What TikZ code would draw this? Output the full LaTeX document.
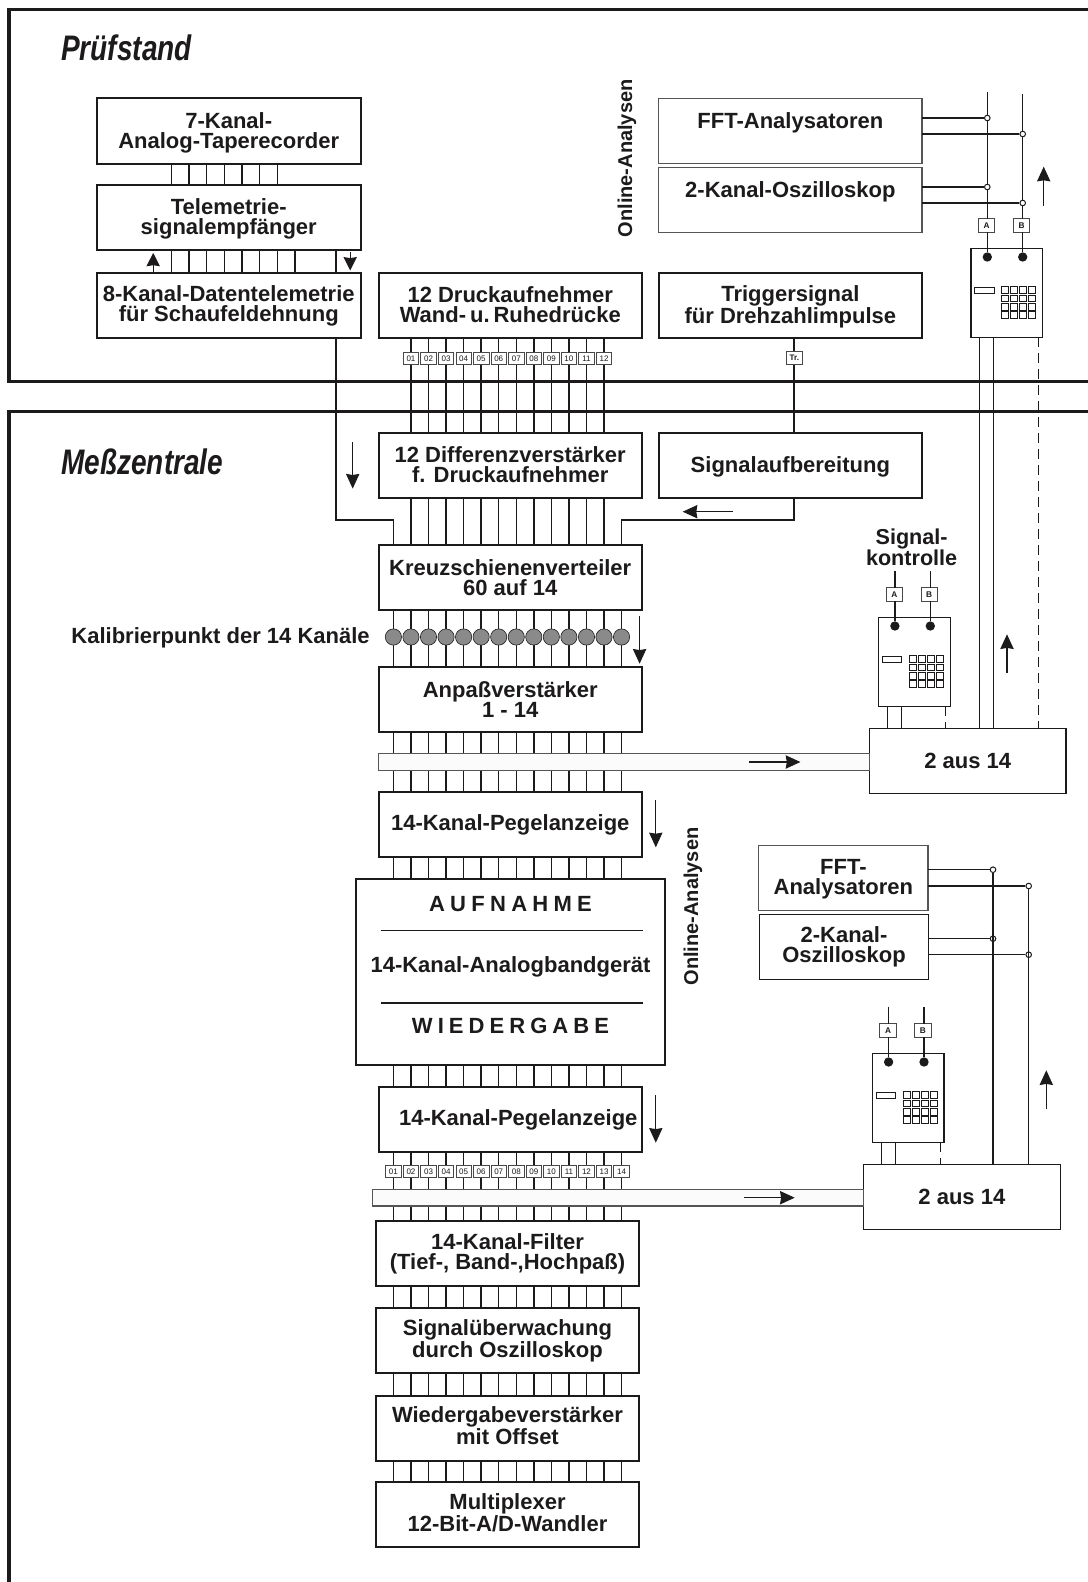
\documentclass[tikz,border=0pt]{standalone}
\usepackage{fontspec}
\setmainfont{Liberation Sans}
\newfontfamily\titlefont[FakeStretch=0.79]{Liberation Sans}
\usetikzlibrary{arrows.meta,calc}
\definecolor{ink}{HTML}{1C1A1B}
\definecolor{thinbox}{HTML}{555555}
\definecolor{chip}{HTML}{8A8A8A}
% small vertical trims of a box text
\newcommand\dnb{\rule{0pt}{15pt}}
\newcommand\dna{\rule{0pt}{13.5pt}}
\newcommand\upa{\rule[-5.3pt]{0pt}{5.3pt}}
\tikzset{
  x=0.75pt,y=-0.75pt,
  every node/.style={text=ink},
  box/.style={draw=ink,line width=1.5pt,inner sep=0pt,outer sep=0pt,align=center,
    font=\fontsize{16.5pt}{15pt}\selectfont\bfseries,
    execute at begin node={\rule{0pt}{14.8pt}\ignorespaces},
    execute at end node={\rule[-3.8pt]{0pt}{3.8pt}}},
  thinb/.style={box,line width=1pt},
  paleb/.style={box,draw=thinbox,line width=1pt},
  frame/.style={draw=ink,line width=2.6pt,line join=miter},
  sig/.style={draw=ink,line width=1.1pt},
  thinsig/.style={draw=ink,line width=0.95pt},
  dashsig/.style={draw=ink,line width=0.85pt,dash pattern=on 7.5pt off 4.5pt},
  flow/.style={draw=ink,line width=0.8pt,-{Stealth[length=11pt,width=10pt,inset=0.8pt]}},
  flowshort/.style={draw=ink,line width=0.8pt,-{Stealth[length=10pt,width=10pt,inset=0.8pt]}},
  numb/.style={draw=ink!80,fill=white,line width=0.55pt,inner sep=0pt,outer sep=0pt,
    minimum width=11.6pt,minimum height=9pt,font=\fontsize{6pt}{6pt}\selectfont},
  ltr/.style={draw=ink!80,fill=white,line width=0.7pt,inner sep=0pt,outer sep=0pt,
    minimum width=12.2pt,minimum height=10.3pt,font=\fontsize{6.2pt}{6pt}\selectfont},
  calib/.style={circle,draw=ink,fill=chip,line width=0.45pt,inner sep=0pt,minimum size=12.2pt},
  jn/.style={circle,draw=ink,fill=white,line width=0.75pt,inner sep=0pt,minimum size=4.2pt},
  knob/.style={circle,fill=ink,inner sep=0pt,minimum size=7pt},
  strip/.style={draw=thinbox,fill=black!1.5,line width=0.8pt,inner sep=0pt,outer sep=0pt},
  caption/.style={font=\fontsize{16.5pt}{15pt}\selectfont\bfseries,align=center,inner sep=0pt},
  side/.style={font=\fontsize{15pt}{15pt}\selectfont\bfseries,rotate=90,inner sep=0pt},
  place/.style={font=\titlefont\fontsize{26.6pt}{28pt}\selectfont\bfseries\itshape,anchor=base west,inner sep=0pt},
  spread/.style={font=\fontsize{16.5pt}{15pt}\selectfont\bfseries,inner sep=0pt},
}
% box by corners: name, x0, y0, x1, y1, style, text
\newcommand\bx[7]{\node[#6,minimum width={(#4-#2)*0.75pt},minimum height={(#5-#3)*0.75pt}]
  (#1) at ({(#2+#4)/2},{(#3+#5)/2}) {#7};}
% channel lines between two boxes
\newcommand\chans[4]{\foreach \i in {#3,...,#4} \draw[sig] (ch\i |- #1.south) -- (ch\i |- #2.north);}
% measuring device: name, x, y of its top left corner
\newcommand\device[3]{
  \bx{#1}{#2}{#3}{#2+71.7}{#3+88.6}{thinb}{}
  \node[knob] (#1ka) at (#2+16.3,#3+8.3) {};
  \node[knob] (#1kb) at (#2+51.7,#3+8.3) {};
  \node[ltr] (#1A) at (#2+15.7,#3-23.2) {\textbf{A}};
  \node[ltr] (#1B) at (#2+50.6,#3-23.2) {\textbf{B}};
  \draw[thinsig] (#1ka) -- (#1ka |- #1A.south);
  \draw[thinsig] (#1kb) -- (#1kb |- #1B.south);
  \draw[draw=ink,fill=white,line width=0.7pt] (#2+3.7,#3+38.6) rectangle (#2+23.3,#3+45);
  \foreach \r in {0,1,2,3} \foreach \c in {0,1,2,3}
    \draw[ink,line width=0.7pt] (#2+30.7+\c*9,#3+38+\r*8.3) rectangle ++(7,6.8);
}
\begin{document}
\begin{tikzpicture}
\useasboundingbox (0,0) rectangle (1088,1582);
\foreach \i in {0,...,13} \coordinate (ch\i) at ({393.4+\i*17.55},0);
\foreach \i in {0,...,7} \coordinate (tm\i) at ({171.3+\i*17.67},0);
\coordinate (lx) at (335.9,0);
\coordinate (trx) at (793.7,0);
% frames
\coordinate (f1a) at (1088,9.6); \coordinate (f1b) at (8.8,9.6);
\coordinate (f1c) at (8.8,381.4); \coordinate (f1d) at (1088,381.4);
\draw[frame] (f1a) -- (f1b) -- (f1c) -- (f1d);
\coordinate (f2a) at (1088,411.4); \coordinate (f2b) at (8.8,411.4);
\coordinate (f2c) at (8.8,1582);
\draw[frame] (f2a) -- (f2b) -- (f2c);
\node[place] (tpruef) at (61,60) {Prüfstand};
\node[place] (tmess) at (61,474) {Meßzentrale};
% boxes
\bx{tape}{96.8}{98.2}{360.7}{163.6}{box}{\dnb 7-Kanal-\\Analog-Taperecorder}
\bx{telem}{96.8}{185}{360.7}{250}{box}{\dnb Telemetrie-\\signalempfänger}
\bx{dat}{96.8}{273}{360.7}{338}{box}{\dna 8-Kanal-Datentelemetrie\\für Schaufeldehnung}
\bx{druck}{378.5}{273}{642}{338}{box}{\dnb 12 Druckaufnehmer\\Wand-\hspace{.18em}u.\hspace{.18em}Ruhedrücke}
\bx{trig}{658.7}{272.5}{922}{338}{box}{\dnb Triggersignal\\für Drehzahlimpulse}
\bx{fft}{658.7}{98.3}{922}{163.7}{paleb}{\dnb FFT-Analysatoren\\~}
\bx{osz}{658.7}{167.3}{922}{232.7}{paleb}{\dnb 2-Kanal-Oszilloskop\\~}
\bx{diff}{378.5}{433.2}{642}{498.2}{box}{\dna 12 Differenzverstärker\\f. Druckaufnehmer}
\bx{aufb}{658.7}{433.2}{922}{498.2}{box}{Signalaufbereitung\upa}
\bx{kreuz}{378.5}{545.4}{642}{610.3}{box}{\dnb Kreuzschienenverteiler\\60 auf 14}
\bx{anp}{378.5}{667}{642}{732.3}{box}{\dnb Anpaßverstärker\\1 - 14}
\bx{peg}{378.5}{791.7}{642}{856.7}{box}{14-Kanal-Pegelanzeige\upa}
\bx{band}{356.2}{878.7}{664.9}{1065.3}{box}{}
\bx{pegb}{378.5}{1087}{642}{1152}{box}{\hspace*{12pt}14-Kanal-Pegelanzeige\upa}
\bx{filt}{375.7}{1221.3}{639.3}{1286.3}{box}{14-Kanal-Filter\\(Tief-, Band-,Hochpaß)}
\bx{ueb}{375.7}{1308.3}{639.3}{1373}{box}{Signalüberwachung\\durch Oszilloskop}
\bx{wied}{375.7}{1395.7}{639.3}{1460.7}{box}{Wiedergabeverstärker\\mit Offset}
\bx{mux}{375.7}{1482.3}{639.3}{1547}{box}{Multiplexer\\12-Bit-A/D-Wandler}
\bx{ffb}{758.7}{845.3}{928}{910.3}{paleb}{\dna FFT-\\Analysatoren}
\bx{osb}{759.3}{914.3}{928.7}{979.3}{thinb}{2-Kanal-\\Oszilloskop}
\bx{wahl}{869.6}{728.7}{1066}{793.7}{thinb}{2 aus 14}
\bx{wahlb}{863.4}{1164.3}{1060.4}{1229.3}{thinb}{2 aus 14}
% band texts
\node[spread] (auf) at (510.5,904.3) {\addfontfeature{LetterSpace=24}AUFNAHME};
\node[spread] (agb) at (510.5,967) {14-Kanal-Analogbandgerät};
\node[spread] (wgb) at (510.5,1026.4) {\addfontfeature{LetterSpace=23}WIEDERGABE};
\coordinate (rua) at (380.5,930.6); \coordinate (rub) at (643,930.6);
\coordinate (rva) at (380.5,1003.2); \coordinate (rvb) at (643,1003.2);
\draw[sig] (rua) -- (rub);
\draw[sig] (rva) -- (rvb);
% free captions
\node[caption,anchor=east] (kal) at (370,638) {Kalibrierpunkt der 14 Kanäle};
\node[caption,font=\fontsize{16.2pt}{15pt}\selectfont\bfseries] (skn) at (911.6,547.2) {Signal-\\kontrolle};
\node[side] (on1) at (627,158.4) {Online-Analysen};
\node[side] (on2) at (693,906.5) {Online-Analysen};
% upper channel bundles
\foreach \i in {0,...,6} \draw[sig] (tm\i |- tape.south) -- (tm\i |- telem.north);
\foreach \i in {0,...,7} \draw[sig] (tm\i |- telem.south) -- (tm\i |- dat.north);
\draw[sig] (lx |- telem.south) -- (lx |- dat.north);
\chans{druck}{diff}{1}{12}
\chans{diff}{kreuz}{1}{12}
\chans{kreuz}{anp}{0}{13}
\chans{anp}{peg}{0}{13}
\chans{peg}{band}{0}{13}
\chans{band}{pegb}{0}{13}
\chans{pegb}{filt}{0}{13}
\chans{filt}{ueb}{0}{13}
\chans{ueb}{wied}{0}{13}
\chans{wied}{mux}{0}{13}
% bent feeders
\coordinate (bn) at (0,520);
\draw[sig,line width=1.3pt] (lx |- dat.south) -- (lx |- bn) -- (ch0 |- bn) -- (ch0 |- kreuz.north);
\draw[sig,line width=1.3pt] (trx |- aufb.south) -- (trx |- bn) -- (ch13 |- bn) -- (ch13 |- kreuz.north);
\draw[sig,line width=1.3pt] (trx |- trig.south) -- (trx |- aufb.north);
% strips over the channels
\bx{bara}{378.5}{753.3}{869.6}{770.3}{strip}{}
\bx{barb}{372.4}{1189.3}{863.4}{1206}{strip}{}
% numbered terminals
\foreach \i/\t in {1/01,2/02,3/03,4/04,5/05,6/06,7/07,8/08,9/09,10/10,11/11,12/12}
  \node[numb] (da\i) at ($(ch\i)+(0,358.8)$) {\t};
\foreach \i/\t in {0/01,1/02,2/03,3/04,4/05,5/06,6/07,7/08,8/09,9/10,10/11,11/12,12/13,13/14}
  \node[numb] (db\i) at ($(ch\i)+(0,1171.7)$) {\t};
\node[numb,minimum width=12.4pt,minimum height=10.2pt] (tr) at (794.3,357.8) {\textbf{Tr.}};
% calibration points
\foreach \i in {0,...,13} \node[calib] (cp\i) at ($(ch\i)+(0,637)$) {};
% devices
\device{dva}{971}{248.7}
\device{dvb}{878.6}{617.7}
\device{dvc}{872.3}{1053.7}
% device a wiring
\coordinate (dat1) at (987.3,92);
\coordinate (dat2) at (1022.7,94);
\draw[thinsig] (dvaka |- dat1) -- (dvaka |- dvaA.north);
\draw[thinsig] (dvakb |- dat2) -- (dvakb |- dvaB.north);
\node[jn] (ja) at (987.3,118) {};
\node[jn] (jb) at (1022.7,134) {};
\node[jn] (jc) at (987.3,187) {};
\node[jn] (jd) at (1022.7,203) {};
\draw[thinsig] (fft.east |- ja) -- (ja);
\draw[thinsig] (fft.east |- jb) -- (jb);
\draw[thinsig] (osz.east |- jc) -- (jc);
\draw[thinsig] (osz.east |- jd) -- (jd);
\coordinate (la) at (979.7,0); \coordinate (lb) at (993.7,0); \coordinate (lc) at (1038.4,0);
\draw[thinsig] (la |- dva.south) -- (la |- wahl.north);
\draw[thinsig] (lb |- dva.south) -- (lb |- wahl.north);
\draw[dashsig] (lc |- dva.south) -- (lc |- wahl.north);
% device b wiring
\coordinate (dbt1) at (894.4,571);
\coordinate (dbt2) at (930.3,571);
\draw[thinsig] (dvbka |- dbt1) -- (dvbka |- dvbA.north);
\draw[thinsig] (dvbkb |- dbt2) -- (dvbkb |- dvbB.north);
\coordinate (lb1) at (887.2,0); \coordinate (lb2) at (901.6,0); \coordinate (lb3) at (945.9,0);
\draw[thinsig] (lb1 |- dvb.south) -- (lb1 |- wahl.north);
\draw[thinsig] (lb2 |- dvb.south) -- (lb2 |- wahl.north);
\draw[dashsig] (lb3 |- dvb.south) -- (lb3 |- wahl.north);
% device c wiring
\coordinate (dct1) at (888.7,1006.7);
\coordinate (dct2) at (924,1006.7);
\draw[thinsig] (dvcka |- dct1) -- (dvcka |- dvcA.north);
\draw[thinsig] (dvckb |- dct2) -- (dvckb |- dvcB.north);
\coordinate (lc1) at (881.5,0); \coordinate (lc2) at (895.8,0); \coordinate (lc3) at (940.2,0);
\draw[thinsig] (lc1 |- dvc.south) -- (lc1 |- wahlb.north);
\draw[thinsig] (lc2 |- dvc.south) -- (lc2 |- wahlb.north);
\draw[dashsig] (lc3 |- dvc.south) -- (lc3 |- wahlb.north);
% lower analysers
\node[jn] (je) at (993,869.7) {};
\node[jn] (jf) at (1028.7,886) {};
\node[jn] (jg) at (993,938.7) {};
\node[jn] (jh) at (1028.7,954.7) {};
\draw[thinsig] (ffb.east |- je) -- (je);
\draw[thinsig] (ffb.east |- jf) -- (jf);
\draw[thinsig] (osb.east |- jg) -- (jg);
\draw[thinsig] (osb.east |- jh) -- (jh);
\draw[thinsig] (je) -- (je |- wahlb.north);
\draw[thinsig] (jf) -- (jf |- wahlb.north);
% flow arrows
\coordinate (a1a) at (153.2,272); \coordinate (a1b) at (153.2,252.9);
\coordinate (a2a) at (350.2,251.8); \coordinate (a2b) at (350.2,270.4);
\coordinate (a3a) at (352.7,441.8); \coordinate (a3b) at (352.7,488.6);
\coordinate (a4a) at (733.3,511.7); \coordinate (a4b) at (682.7,511.7);
\coordinate (a5a) at (1043.7,206); \coordinate (a5b) at (1043.7,166.7);
\coordinate (a6a) at (639.6,616.3); \coordinate (a6b) at (639.6,663.7);
\coordinate (a7a) at (749.4,762); \coordinate (a7b) at (800.4,762);
\coordinate (a8a) at (1007,672.7); \coordinate (a8b) at (1007,634.3);
\coordinate (a9a) at (655.8,800); \coordinate (a9b) at (655.8,847.3);
\coordinate (a10a) at (655.8,1095.3); \coordinate (a10b) at (655.8,1142.7);
\coordinate (a11a) at (744,1197.7); \coordinate (a11b) at (794.7,1197.7);
\coordinate (a12a) at (1046.3,1109.3); \coordinate (a12b) at (1046.3,1070.3);
\draw[flowshort] (a1a) -- (a1b);
\draw[flowshort] (a2a) -- (a2b);
\foreach \k in {3,...,12} \draw[flow] (a\k a) -- (a\k b);
\end{tikzpicture}
\end{document}
